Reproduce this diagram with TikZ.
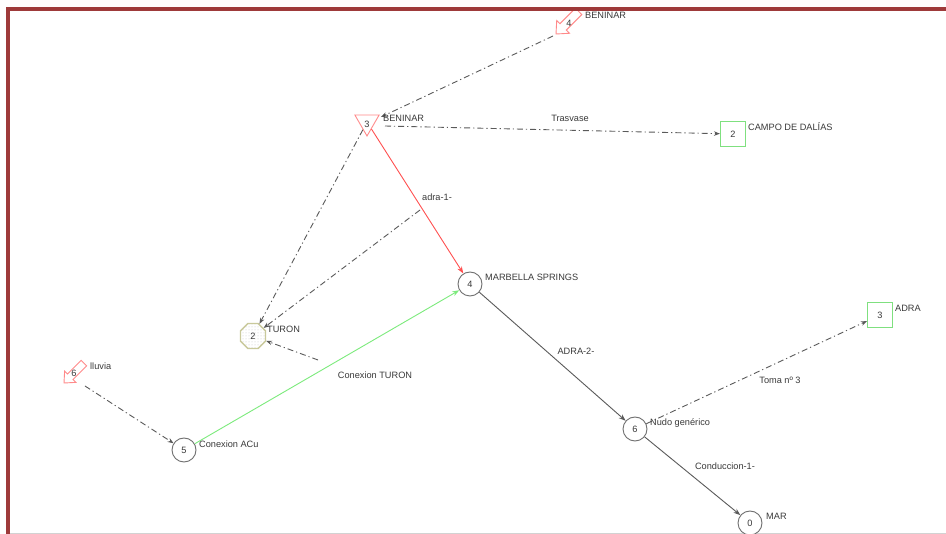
\documentclass[tikz,border=0pt]{standalone}
\usepackage{fontspec}
\setmainfont{Liberation Sans}
\usetikzlibrary{shapes.geometric,arrows.meta,patterns}

\definecolor{framered}{HTML}{9E3A3A}
\definecolor{markred}{HTML}{FF8A8A}
\definecolor{linkred}{HTML}{FF5050}
\definecolor{linkgreen}{HTML}{7CEB7C}
\definecolor{boxgreen}{HTML}{7FE07F}
\definecolor{nodegray}{HTML}{707070}
\definecolor{linkgray}{HTML}{5A5A5A}
\definecolor{textgray}{HTML}{3A3A3A}
\definecolor{octo}{HTML}{C9C99B}

\tikzset{
  txt/.style={font=\fontsize{9.2}{11}\selectfont, text=textgray, inner sep=0pt},
  lbl/.style={txt, anchor=west},
  junction/.style={circle, draw=nodegray, fill=white, minimum size=24pt,
    inner sep=0pt, line width=0.9pt, txt},
  tank/.style={rectangle, draw=boxgreen, fill=white, minimum size=25pt,
    inner sep=0pt, line width=1.1pt, txt},
  reservoir/.style={regular polygon, regular polygon sides=3,
    shape border rotate=180, minimum size=28pt, inner sep=0pt,
    draw=markred, fill=white, line width=0.9pt},
  aquifer/.style={regular polygon, regular polygon sides=8, minimum size=27pt,
    inner sep=0pt, draw=octo, line width=1.3pt, preaction={fill=white},
    pattern=dots, pattern color=gray!45, txt},
  flow/.style={draw=linkgray, line width=0.9pt,
    dash pattern=on 6pt off 3pt on 1.2pt off 3pt,
    -{Stealth[length=6pt,width=4.5pt]}},
  pipe/.style={line width=0.9pt, -{Stealth[length=7pt,width=5pt]}},
  inflow/.pic={
    \draw[markred, line width=0.9pt, fill=white]
      (0,0) -- (-10,9) -- (-10,4.5) -- (-32,4.5) -- (-32,-4.5)
      -- (-10,-4.5) -- (-10,-9) -- cycle;
  }
}

\begin{document}
\begin{tikzpicture}[x=1pt,y=-1pt]
  \useasboundingbox (0,0) rectangle (946,534);
  \fill[white] (0,0) rectangle (946,534);

  % inflow markers
  \pic[rotate=225] at (556,34) {inflow};
  \pic[rotate=225, scale=0.88] at (64,383) {inflow};

  % frame
  \draw[gray!35, line width=1pt] (7,533.5) -- (946,533.5);
  \draw[framered, line width=4pt] (946,9.5) -- (7.5,9.5) -- (7.5,534);

  % elements
  \node[reservoir] (ben3) at (367,122) {};
  \node[aquifer] (turon) at (253,336) {2};
  \node[tank] (campo) at (733,134) {2};
  \node[tank] (adra) at (880,315) {3};
  \node[junction] (n4) at (470,284) {4};
  \node[junction] (n5) at (184,450) {5};
  \node[junction] (n6) at (635,429) {6};
  \node[junction] (n0) at (750,523) {0};

  % free ends of links
  \coordinate (ben4tip) at (553,36);
  \coordinate (ben3in) at (381,117);
  \coordinate (ben3out) at (385,126);
  \coordinate (lluviatip) at (85,386);
  \coordinate (adraorig) at (420,210);
  \coordinate (turonorig) at (318,360);

  % dash-dot links
  \draw[flow] (ben4tip) -- (ben3in);
  \draw[flow] (ben3) -- (turon);
  \draw[flow] (adraorig) -- (turon);
  \draw[flow] (turonorig) -- (turon);
  \draw[flow] (lluviatip) -- (n5);
  \draw[flow] (ben3out) -- (campo);
  \draw[flow] (n6) -- (adra);

  % pipes
  \draw[pipe, linkred] (ben3) -- (n4);
  \draw[pipe, linkgreen] (n5) -- (n4);
  \draw[pipe, linkgray] (n4) -- (n6);
  \draw[pipe, linkgray] (n6) -- (n0);

  % numbers inside markers
  \node[txt] (ben4num) at (569,23) {4};
  \node[txt] (ben3num) at (367,124) {3};
  \node[txt] (lluvianum) at (74,373) {6};

  % element names
  \node[lbl] (ben4name) at (585,15) {BENINAR};
  \node[lbl] (ben3name) at (383,118) {BENINAR};
  \node[lbl] (camponame) at (748,127) {CAMPO DE DALÍAS};
  \node[lbl] (turonname) at (267,329) {TURON};
  \node[lbl] (lluvianame) at (90,366) {lluvia};
  \node[lbl] (n5name) at (199,444) {Conexion ACu};
  \node[lbl] (n4name) at (485,277) {MARBELLA SPRINGS};
  \node[lbl] (n6name) at (650,423) {Nudo genérico};
  \node[lbl] (adraname) at (895,308) {ADRA};
  \node[lbl] (n0name) at (766,516) {MAR};

  % link names
  \node[txt] (trasvase) at (570,118) {Trasvase};
  \node[txt] (adra1) at (437,197) {adra-1-};
  \node[txt] (contur) at (375,375) {Conexion TURON};
  \node[txt] (adra2) at (576,351) {ADRA-2-};
  \node[txt] (toma) at (780,380) {Toma nº 3};
  \node[txt] (cond1) at (725,466) {Conduccion-1-};
\end{tikzpicture}
\end{document}
